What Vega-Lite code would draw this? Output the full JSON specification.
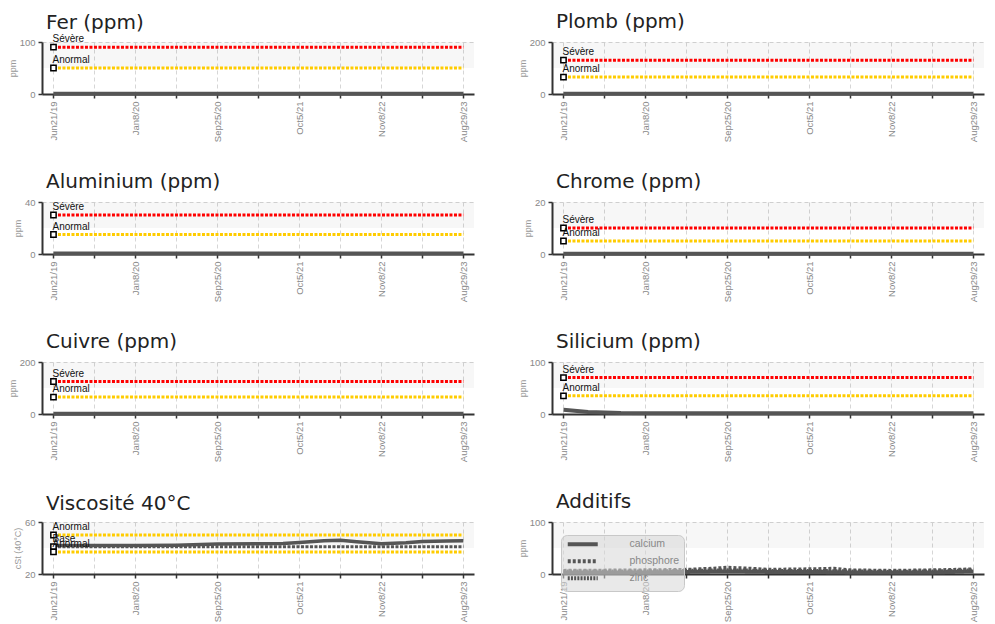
{
  "$schema": "https://vega.github.io/schema/vega-lite/v6.json",
  "padding": {"left": 8, "top": 12, "right": 5, "bottom": 3},
  "autosize": {"type": "pad"},
  "datasets": {
    "series": [
      {"p": "Fer", "s": "data", "i": 0, "v": 0.5}, {"p": "Fer", "s": "data", "i": 10, "v": 0.5}, {"p": "Fer", "s": "data", "i": 20, "v": 0.5}, {"p": "Fer", "s": "data", "i": 30, "v": 0.5}, {"p": "Fer", "s": "data", "i": 40, "v": 0.5}, {"p": "Fer", "s": "data", "i": 50, "v": 0.5},
      {"p": "Plomb", "s": "data", "i": 0, "v": 1}, {"p": "Plomb", "s": "data", "i": 10, "v": 1}, {"p": "Plomb", "s": "data", "i": 20, "v": 1}, {"p": "Plomb", "s": "data", "i": 30, "v": 1}, {"p": "Plomb", "s": "data", "i": 40, "v": 1}, {"p": "Plomb", "s": "data", "i": 50, "v": 1},
      {"p": "Aluminium", "s": "data", "i": 0, "v": 0.3}, {"p": "Aluminium", "s": "data", "i": 10, "v": 0.3}, {"p": "Aluminium", "s": "data", "i": 20, "v": 0.3}, {"p": "Aluminium", "s": "data", "i": 30, "v": 0.3}, {"p": "Aluminium", "s": "data", "i": 40, "v": 0.3}, {"p": "Aluminium", "s": "data", "i": 50, "v": 0.3},
      {"p": "Chrome", "s": "data", "i": 0, "v": 0.1}, {"p": "Chrome", "s": "data", "i": 10, "v": 0.1}, {"p": "Chrome", "s": "data", "i": 20, "v": 0.1}, {"p": "Chrome", "s": "data", "i": 30, "v": 0.1}, {"p": "Chrome", "s": "data", "i": 40, "v": 0.1}, {"p": "Chrome", "s": "data", "i": 50, "v": 0.1},
      {"p": "Cuivre", "s": "data", "i": 0, "v": 1}, {"p": "Cuivre", "s": "data", "i": 10, "v": 1}, {"p": "Cuivre", "s": "data", "i": 20, "v": 1}, {"p": "Cuivre", "s": "data", "i": 30, "v": 1}, {"p": "Cuivre", "s": "data", "i": 40, "v": 1}, {"p": "Cuivre", "s": "data", "i": 50, "v": 1},
      {"p": "Silicium", "s": "data", "i": 0, "v": 8}, {"p": "Silicium", "s": "data", "i": 3, "v": 4}, {"p": "Silicium", "s": "data", "i": 7, "v": 2}, {"p": "Silicium", "s": "data", "i": 20, "v": 1.5}, {"p": "Silicium", "s": "data", "i": 30, "v": 1.5}, {"p": "Silicium", "s": "data", "i": 40, "v": 1.5}, {"p": "Silicium", "s": "data", "i": 50, "v": 1.5},
      {"p": "Visc", "s": "data", "i": 0, "v": 42}, {"p": "Visc", "s": "data", "i": 5, "v": 42}, {"p": "Visc", "s": "data", "i": 10, "v": 42}, {"p": "Visc", "s": "data", "i": 15, "v": 42.2}, {"p": "Visc", "s": "data", "i": 20, "v": 43}, {"p": "Visc", "s": "data", "i": 25, "v": 43.2}, {"p": "Visc", "s": "data", "i": 28, "v": 43.5}, {"p": "Visc", "s": "data", "i": 30, "v": 44.2}, {"p": "Visc", "s": "data", "i": 33, "v": 45.5}, {"p": "Visc", "s": "data", "i": 35, "v": 46}, {"p": "Visc", "s": "data", "i": 37, "v": 44.8}, {"p": "Visc", "s": "data", "i": 40, "v": 43.2}, {"p": "Visc", "s": "data", "i": 43, "v": 44}, {"p": "Visc", "s": "data", "i": 45, "v": 45}, {"p": "Visc", "s": "data", "i": 48, "v": 45.3}, {"p": "Visc", "s": "data", "i": 50, "v": 45.6},
      {"p": "Add", "s": "calcium", "i": 0, "v": 3}, {"p": "Add", "s": "calcium", "i": 10, "v": 3}, {"p": "Add", "s": "calcium", "i": 15, "v": 4}, {"p": "Add", "s": "calcium", "i": 20, "v": 5}, {"p": "Add", "s": "calcium", "i": 25, "v": 4}, {"p": "Add", "s": "calcium", "i": 30, "v": 4}, {"p": "Add", "s": "calcium", "i": 35, "v": 3}, {"p": "Add", "s": "calcium", "i": 40, "v": 3}, {"p": "Add", "s": "calcium", "i": 45, "v": 3}, {"p": "Add", "s": "calcium", "i": 50, "v": 5},
      {"p": "Add", "s": "phosphore", "i": 0, "v": 6}, {"p": "Add", "s": "phosphore", "i": 10, "v": 7}, {"p": "Add", "s": "phosphore", "i": 15, "v": 8}, {"p": "Add", "s": "phosphore", "i": 18, "v": 10}, {"p": "Add", "s": "phosphore", "i": 20, "v": 12}, {"p": "Add", "s": "phosphore", "i": 23, "v": 10}, {"p": "Add", "s": "phosphore", "i": 25, "v": 8}, {"p": "Add", "s": "phosphore", "i": 30, "v": 9}, {"p": "Add", "s": "phosphore", "i": 33, "v": 10}, {"p": "Add", "s": "phosphore", "i": 35, "v": 7}, {"p": "Add", "s": "phosphore", "i": 40, "v": 6}, {"p": "Add", "s": "phosphore", "i": 45, "v": 7}, {"p": "Add", "s": "phosphore", "i": 48, "v": 8}, {"p": "Add", "s": "phosphore", "i": 50, "v": 9},
      {"p": "Add", "s": "zinc", "i": 0, "v": 5}, {"p": "Add", "s": "zinc", "i": 10, "v": 5}, {"p": "Add", "s": "zinc", "i": 15, "v": 6}, {"p": "Add", "s": "zinc", "i": 20, "v": 7}, {"p": "Add", "s": "zinc", "i": 25, "v": 6}, {"p": "Add", "s": "zinc", "i": 30, "v": 6}, {"p": "Add", "s": "zinc", "i": 35, "v": 5}, {"p": "Add", "s": "zinc", "i": 40, "v": 4}, {"p": "Add", "s": "zinc", "i": 45, "v": 5}, {"p": "Add", "s": "zinc", "i": 50, "v": 7}
    ],
    "limits": [
      {"p": "Fer", "k": "s", "label": "Sévère", "v": 90}, {"p": "Fer", "k": "a", "label": "Anormal", "v": 50},
      {"p": "Plomb", "k": "s", "label": "Sévère", "v": 130}, {"p": "Plomb", "k": "a", "label": "Anormal", "v": 65},
      {"p": "Aluminium", "k": "s", "label": "Sévère", "v": 30}, {"p": "Aluminium", "k": "a", "label": "Anormal", "v": 15},
      {"p": "Chrome", "k": "s", "label": "Sévère", "v": 10}, {"p": "Chrome", "k": "a", "label": "Anormal", "v": 5},
      {"p": "Cuivre", "k": "s", "label": "Sévère", "v": 125}, {"p": "Cuivre", "k": "a", "label": "Anormal", "v": 65},
      {"p": "Silicium", "k": "s", "label": "Sévère", "v": 70}, {"p": "Silicium", "k": "a", "label": "Anormal", "v": 35},
      {"p": "Visc", "k": "a", "label": "Anormal", "v": 50}, {"p": "Visc", "k": "b", "label": "Base", "v": 41}, {"p": "Visc", "k": "a", "label": "Anormal", "v": 37}
    ]
  },
  "columns": 2,
  "bounds": "flush",
  "spacing": {"row": 108, "column": 78},
  "resolve": {"scale": {"strokeDash": "independent", "stroke": "independent"}, "legend": {"strokeDash": "independent", "stroke": "independent"}},
  "concat": [
    {
      "title": {"text": "Fer (ppm)", "dy": 4}, "width": 432, "height": 52,
      "layer": [
        {"data": {"values": [{}]}, "mark": {"type": "rect", "color": "#000", "opacity": 0.03}, "encoding": {"y": {"datum": 50, "type": "quantitative", "title": null}, "y2": {"datum": 100}}},
        {"data": {"name": "series"}, "transform": [{"filter": "datum.p == 'Fer'"}], "mark": {"type": "line", "color": "#555", "strokeWidth": 4},
         "encoding": {"x": {"field": "i", "type": "quantitative", "scale": {"domain": [-1.4, 51.3], "nice": false, "zero": false}, "axis": {"values": [0, 5, 10, 15, 20, 25, 30, 35, 40, 45, 50], "labelExpr": "datum.value % 10 == 0 ? ['Jun21/19','Jan8/20','Sep25/20','Oct5/21','Nov8/22','Aug29/23'][datum.value / 10] : ''"}, "title": null},
                      "y": {"field": "v", "type": "quantitative", "scale": {"domain": [0, 100], "nice": false}, "axis": {"values": [0, 50, 100]}, "title": "ppm"}}},
        {"data": {"name": "limits"}, "transform": [{"filter": "datum.p == 'Fer'"}], "encoding": {"y": {"field": "v", "type": "quantitative"}},
         "layer": [
          {"mark": {"type": "rule", "strokeWidth": 3, "strokeDash": [3, 1.5]}, "encoding": {"x": {"datum": 0, "type": "quantitative", "title": null}, "x2": {"datum": 50}, "stroke": {"field": "k", "type": "nominal", "scale": {"domain": ["s", "a", "b"], "range": ["#ff0000", "#ffcc00", "#555555"]}, "legend": null}}},
          {"mark": {"type": "point", "shape": "square", "size": 28, "filled": true, "fill": "#fff", "stroke": "#000", "strokeWidth": 1.5, "opacity": 1}, "encoding": {"x": {"datum": 0, "type": "quantitative", "title": null}}},
          {"mark": {"type": "text", "align": "left", "baseline": "alphabetic", "dx": -1, "dy": -5, "fontSize": 10, "color": "#111"}, "encoding": {"x": {"datum": 0, "type": "quantitative", "title": null}, "text": {"field": "label"}}}
        ]}
      ]
    },
    {
      "title": "Plomb (ppm)", "width": 432, "height": 52,
      "layer": [
        {"data": {"values": [{}]}, "mark": {"type": "rect", "color": "#000", "opacity": 0.03}, "encoding": {"y": {"datum": 100, "type": "quantitative", "title": null}, "y2": {"datum": 200}}},
        {"data": {"name": "series"}, "transform": [{"filter": "datum.p == 'Plomb'"}], "mark": {"type": "line", "color": "#555", "strokeWidth": 4},
         "encoding": {"x": {"field": "i", "type": "quantitative", "scale": {"domain": [-1.4, 51.3], "nice": false, "zero": false}, "axis": {"values": [0, 5, 10, 15, 20, 25, 30, 35, 40, 45, 50], "labelExpr": "datum.value % 10 == 0 ? ['Jun21/19','Jan8/20','Sep25/20','Oct5/21','Nov8/22','Aug29/23'][datum.value / 10] : ''"}, "title": null},
                      "y": {"field": "v", "type": "quantitative", "scale": {"domain": [0, 200], "nice": false}, "axis": {"values": [0, 100, 200]}, "title": "ppm"}}},
        {"data": {"name": "limits"}, "transform": [{"filter": "datum.p == 'Plomb'"}], "encoding": {"y": {"field": "v", "type": "quantitative"}},
         "layer": [
          {"mark": {"type": "rule", "strokeWidth": 3, "strokeDash": [3, 1.5]}, "encoding": {"x": {"datum": 0, "type": "quantitative", "title": null}, "x2": {"datum": 50}, "stroke": {"field": "k", "type": "nominal", "scale": {"domain": ["s", "a", "b"], "range": ["#ff0000", "#ffcc00", "#555555"]}, "legend": null}}},
          {"mark": {"type": "point", "shape": "square", "size": 28, "filled": true, "fill": "#fff", "stroke": "#000", "strokeWidth": 1.5, "opacity": 1}, "encoding": {"x": {"datum": 0, "type": "quantitative", "title": null}}},
          {"mark": {"type": "text", "align": "left", "baseline": "alphabetic", "dx": -1, "dy": -5, "fontSize": 10, "color": "#111"}, "encoding": {"x": {"datum": 0, "type": "quantitative", "title": null}, "text": {"field": "label"}}}
        ]}
      ]
    },
    {
      "title": "Aluminium (ppm)", "width": 432, "height": 52,
      "layer": [
        {"data": {"values": [{}]}, "mark": {"type": "rect", "color": "#000", "opacity": 0.03}, "encoding": {"y": {"datum": 20, "type": "quantitative", "title": null}, "y2": {"datum": 40}}},
        {"data": {"name": "series"}, "transform": [{"filter": "datum.p == 'Aluminium'"}], "mark": {"type": "line", "color": "#555", "strokeWidth": 4},
         "encoding": {"x": {"field": "i", "type": "quantitative", "scale": {"domain": [-1.4, 51.3], "nice": false, "zero": false}, "axis": {"values": [0, 5, 10, 15, 20, 25, 30, 35, 40, 45, 50], "labelExpr": "datum.value % 10 == 0 ? ['Jun21/19','Jan8/20','Sep25/20','Oct5/21','Nov8/22','Aug29/23'][datum.value / 10] : ''"}, "title": null},
                      "y": {"field": "v", "type": "quantitative", "scale": {"domain": [0, 40], "nice": false}, "axis": {"values": [0, 20, 40]}, "title": "ppm"}}},
        {"data": {"name": "limits"}, "transform": [{"filter": "datum.p == 'Aluminium'"}], "encoding": {"y": {"field": "v", "type": "quantitative"}},
         "layer": [
          {"mark": {"type": "rule", "strokeWidth": 3, "strokeDash": [3, 1.5]}, "encoding": {"x": {"datum": 0, "type": "quantitative", "title": null}, "x2": {"datum": 50}, "stroke": {"field": "k", "type": "nominal", "scale": {"domain": ["s", "a", "b"], "range": ["#ff0000", "#ffcc00", "#555555"]}, "legend": null}}},
          {"mark": {"type": "point", "shape": "square", "size": 28, "filled": true, "fill": "#fff", "stroke": "#000", "strokeWidth": 1.5, "opacity": 1}, "encoding": {"x": {"datum": 0, "type": "quantitative", "title": null}}},
          {"mark": {"type": "text", "align": "left", "baseline": "alphabetic", "dx": -1, "dy": -5, "fontSize": 10, "color": "#111"}, "encoding": {"x": {"datum": 0, "type": "quantitative", "title": null}, "text": {"field": "label"}}}
        ]}
      ]
    },
    {
      "title": "Chrome (ppm)", "width": 432, "height": 52,
      "layer": [
        {"data": {"values": [{}]}, "mark": {"type": "rect", "color": "#000", "opacity": 0.03}, "encoding": {"y": {"datum": 10, "type": "quantitative", "title": null}, "y2": {"datum": 20}}},
        {"data": {"name": "series"}, "transform": [{"filter": "datum.p == 'Chrome'"}], "mark": {"type": "line", "color": "#555", "strokeWidth": 4},
         "encoding": {"x": {"field": "i", "type": "quantitative", "scale": {"domain": [-1.4, 51.3], "nice": false, "zero": false}, "axis": {"values": [0, 5, 10, 15, 20, 25, 30, 35, 40, 45, 50], "labelExpr": "datum.value % 10 == 0 ? ['Jun21/19','Jan8/20','Sep25/20','Oct5/21','Nov8/22','Aug29/23'][datum.value / 10] : ''"}, "title": null},
                      "y": {"field": "v", "type": "quantitative", "scale": {"domain": [0, 20], "nice": false}, "axis": {"values": [0, 10, 20]}, "title": "ppm"}}},
        {"data": {"name": "limits"}, "transform": [{"filter": "datum.p == 'Chrome'"}], "encoding": {"y": {"field": "v", "type": "quantitative"}},
         "layer": [
          {"mark": {"type": "rule", "strokeWidth": 3, "strokeDash": [3, 1.5]}, "encoding": {"x": {"datum": 0, "type": "quantitative", "title": null}, "x2": {"datum": 50}, "stroke": {"field": "k", "type": "nominal", "scale": {"domain": ["s", "a", "b"], "range": ["#ff0000", "#ffcc00", "#555555"]}, "legend": null}}},
          {"mark": {"type": "point", "shape": "square", "size": 28, "filled": true, "fill": "#fff", "stroke": "#000", "strokeWidth": 1.5, "opacity": 1}, "encoding": {"x": {"datum": 0, "type": "quantitative", "title": null}}},
          {"mark": {"type": "text", "align": "left", "baseline": "alphabetic", "dx": -1, "dy": -5, "fontSize": 10, "color": "#111"}, "encoding": {"x": {"datum": 0, "type": "quantitative", "title": null}, "text": {"field": "label"}}}
        ]}
      ]
    },
    {
      "title": "Cuivre (ppm)", "width": 432, "height": 52,
      "layer": [
        {"data": {"values": [{}]}, "mark": {"type": "rect", "color": "#000", "opacity": 0.03}, "encoding": {"y": {"datum": 100, "type": "quantitative", "title": null}, "y2": {"datum": 200}}},
        {"data": {"name": "series"}, "transform": [{"filter": "datum.p == 'Cuivre'"}], "mark": {"type": "line", "color": "#555", "strokeWidth": 4},
         "encoding": {"x": {"field": "i", "type": "quantitative", "scale": {"domain": [-1.4, 51.3], "nice": false, "zero": false}, "axis": {"values": [0, 5, 10, 15, 20, 25, 30, 35, 40, 45, 50], "labelExpr": "datum.value % 10 == 0 ? ['Jun21/19','Jan8/20','Sep25/20','Oct5/21','Nov8/22','Aug29/23'][datum.value / 10] : ''"}, "title": null},
                      "y": {"field": "v", "type": "quantitative", "scale": {"domain": [0, 200], "nice": false}, "axis": {"values": [0, 100, 200]}, "title": "ppm"}}},
        {"data": {"name": "limits"}, "transform": [{"filter": "datum.p == 'Cuivre'"}], "encoding": {"y": {"field": "v", "type": "quantitative"}},
         "layer": [
          {"mark": {"type": "rule", "strokeWidth": 3, "strokeDash": [3, 1.5]}, "encoding": {"x": {"datum": 0, "type": "quantitative", "title": null}, "x2": {"datum": 50}, "stroke": {"field": "k", "type": "nominal", "scale": {"domain": ["s", "a", "b"], "range": ["#ff0000", "#ffcc00", "#555555"]}, "legend": null}}},
          {"mark": {"type": "point", "shape": "square", "size": 28, "filled": true, "fill": "#fff", "stroke": "#000", "strokeWidth": 1.5, "opacity": 1}, "encoding": {"x": {"datum": 0, "type": "quantitative", "title": null}}},
          {"mark": {"type": "text", "align": "left", "baseline": "alphabetic", "dx": -1, "dy": -5, "fontSize": 10, "color": "#111"}, "encoding": {"x": {"datum": 0, "type": "quantitative", "title": null}, "text": {"field": "label"}}}
        ]}
      ]
    },
    {
      "title": "Silicium (ppm)", "width": 432, "height": 52,
      "layer": [
        {"data": {"values": [{}]}, "mark": {"type": "rect", "color": "#000", "opacity": 0.03}, "encoding": {"y": {"datum": 50, "type": "quantitative", "title": null}, "y2": {"datum": 100}}},
        {"data": {"name": "series"}, "transform": [{"filter": "datum.p == 'Silicium'"}], "mark": {"type": "line", "color": "#555", "strokeWidth": 4},
         "encoding": {"x": {"field": "i", "type": "quantitative", "scale": {"domain": [-1.4, 51.3], "nice": false, "zero": false}, "axis": {"values": [0, 5, 10, 15, 20, 25, 30, 35, 40, 45, 50], "labelExpr": "datum.value % 10 == 0 ? ['Jun21/19','Jan8/20','Sep25/20','Oct5/21','Nov8/22','Aug29/23'][datum.value / 10] : ''"}, "title": null},
                      "y": {"field": "v", "type": "quantitative", "scale": {"domain": [0, 100], "nice": false}, "axis": {"values": [0, 50, 100]}, "title": "ppm"}}},
        {"data": {"name": "limits"}, "transform": [{"filter": "datum.p == 'Silicium'"}], "encoding": {"y": {"field": "v", "type": "quantitative"}},
         "layer": [
          {"mark": {"type": "rule", "strokeWidth": 3, "strokeDash": [3, 1.5]}, "encoding": {"x": {"datum": 0, "type": "quantitative", "title": null}, "x2": {"datum": 50}, "stroke": {"field": "k", "type": "nominal", "scale": {"domain": ["s", "a", "b"], "range": ["#ff0000", "#ffcc00", "#555555"]}, "legend": null}}},
          {"mark": {"type": "point", "shape": "square", "size": 28, "filled": true, "fill": "#fff", "stroke": "#000", "strokeWidth": 1.5, "opacity": 1}, "encoding": {"x": {"datum": 0, "type": "quantitative", "title": null}}},
          {"mark": {"type": "text", "align": "left", "baseline": "alphabetic", "dx": -1, "dy": -5, "fontSize": 10, "color": "#111"}, "encoding": {"x": {"datum": 0, "type": "quantitative", "title": null}, "text": {"field": "label"}}}
        ]}
      ]
    },
    {
      "title": {"text": "Viscosité 40°C", "dy": 2}, "width": 432, "height": 52,
      "layer": [
        {"data": {"values": [{}]}, "mark": {"type": "rect", "color": "#000", "opacity": 0.03}, "encoding": {"y": {"datum": 40, "type": "quantitative", "title": null}, "y2": {"datum": 60}}},
        {"data": {"name": "series"}, "transform": [{"filter": "datum.p == 'Visc'"}], "mark": {"type": "line", "color": "#555", "strokeWidth": 3.5},
         "encoding": {"x": {"field": "i", "type": "quantitative", "scale": {"domain": [-1.4, 51.3], "nice": false, "zero": false}, "axis": {"values": [0, 5, 10, 15, 20, 25, 30, 35, 40, 45, 50], "labelExpr": "datum.value % 10 == 0 ? ['Jun21/19','Jan8/20','Sep25/20','Oct5/21','Nov8/22','Aug29/23'][datum.value / 10] : ''"}, "title": null},
                      "y": {"field": "v", "type": "quantitative", "scale": {"domain": [20, 60], "nice": false, "zero": false}, "axis": {"values": [20, 40, 60]}, "title": "cSt (40°C)"}}},
        {"data": {"name": "limits"}, "transform": [{"filter": "datum.p == 'Visc'"}], "encoding": {"y": {"field": "v", "type": "quantitative"}},
         "layer": [
          {"mark": {"type": "rule", "strokeWidth": 3, "strokeDash": [3, 1.5]}, "encoding": {"x": {"datum": 0, "type": "quantitative", "title": null}, "x2": {"datum": 50}, "stroke": {"field": "k", "type": "nominal", "scale": {"domain": ["s", "a", "b"], "range": ["#ff0000", "#ffcc00", "#555555"]}, "legend": null}}},
          {"mark": {"type": "point", "shape": "square", "size": 28, "filled": true, "fill": "#fff", "stroke": "#000", "strokeWidth": 1.5, "opacity": 1}, "encoding": {"x": {"datum": 0, "type": "quantitative", "title": null}}},
          {"mark": {"type": "text", "align": "left", "baseline": "alphabetic", "dx": -1, "dy": -5, "fontSize": 10, "color": "#111"}, "encoding": {"x": {"datum": 0, "type": "quantitative", "title": null}, "text": {"field": "label"}}}
        ]}
      ]
    },
    {
      "title": "Additifs", "width": 432, "height": 52,
      "layer": [
        {"data": {"values": [{}]}, "mark": {"type": "rect", "color": "#000", "opacity": 0.03}, "encoding": {"y": {"datum": 50, "type": "quantitative", "title": null}, "y2": {"datum": 100}}},
        {"data": {"name": "series"}, "transform": [{"filter": "datum.p == 'Add'"}], "mark": {"type": "line", "color": "#555", "strokeWidth": 4},
         "encoding": {"x": {"field": "i", "type": "quantitative", "scale": {"domain": [-1.4, 51.3], "nice": false, "zero": false}, "axis": {"values": [0, 5, 10, 15, 20, 25, 30, 35, 40, 45, 50], "labelExpr": "datum.value % 10 == 0 ? ['Jun21/19','Jan8/20','Sep25/20','Oct5/21','Nov8/22','Aug29/23'][datum.value / 10] : ''"}, "title": null},
                      "y": {"field": "v", "type": "quantitative", "scale": {"domain": [0, 100], "nice": false}, "axis": {"values": [0, 50, 100]}, "title": "ppm"},
                      "strokeDash": {"field": "s", "type": "nominal", "scale": {"domain": ["calcium", "phosphore", "zinc"], "range": [[1, 0], [3, 2], [2, 1.2]]},
                                     "legend": {"orient": "none", "legendX": 9, "legendY": 13, "title": null, "symbolType": "M-1,0H11", "symbolSize": 25, "symbolStrokeWidth": 4, "symbolStrokeColor": "#555", "fillColor": "rgba(215,215,215,0.55)", "strokeColor": "#c8c8c8", "cornerRadius": 6, "padding": 4, "labelFontSize": 10.5, "labelColor": "#888", "labelOffset": 54, "rowPadding": 0}}}}
      ]
    }
  ],
  "config": {
    "view": {"stroke": null},
    "font": "Liberation Sans",
    "axis": {"grid": true, "gridColor": "#d6d6d6", "gridDash": [4, 3], "gridWidth": 1, "domainColor": "#333", "domainWidth": 2, "tickColor": "#333", "tickSize": 4, "tickWidth": 1.5, "labelColor": "#888", "labelFont": "Liberation Sans", "titleColor": "#999", "titleFont": "Liberation Sans", "titleFontWeight": "normal"},
    "axisX": {"labelAngle": -90, "labelFontSize": 9.5, "labelPadding": 3, "labelFlush": false},
    "axisY": {"labelFontSize": 9.5, "labelPadding": 3, "titleFontSize": 9, "titlePadding": 2},
    "legend": {"labelFont": "Liberation Sans"},
    "text": {"font": "Liberation Sans"},
    "title": {"anchor": "start", "font": "DejaVu Sans", "fontSize": 20, "fontWeight": "normal", "color": "#222", "frame": "group", "offset": 5, "dx": 4}
  }
}
